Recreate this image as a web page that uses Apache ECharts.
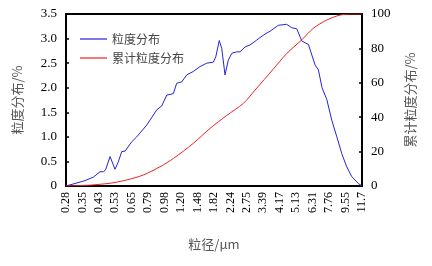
<!DOCTYPE html>
<html>
<head>
<meta charset="utf-8">
<script src="https://cdn.jsdelivr.net/npm/echarts@6/dist/echarts.min.js"></script>
<style>
  html, body { margin: 0; padding: 0; background: #fff; }
  #chart { width: 432px; height: 266px; }
</style>
</head>
<body>
<div id="chart"></div>
<script>
// 粒径刻度 (log spaced, one per axis step)
const sizeLabels = ["0.28", "0.35", "0.43", "0.53", "0.65", "0.79", "0.98", "1.20", "1.48",
  "1.82", "2.24", "2.75", "3.39", "4.17", "5.13", "6.31", "7.76", "9.55", "11.7"];

// 粒度分布 : [position on label scale, %]
const distPos = [0, 0.43, 1.16, 1.66, 2.07, 2.27, 2.41, 2.68, 2.98, 3.18, 3.39, 3.59, 4.0, 4.3,
  4.91, 5.52, 5.82, 6.13, 6.53, 6.73, 7.04, 7.34, 7.74, 8.15, 8.56, 8.96, 9.11, 9.32, 9.47,
  9.67, 9.87, 10.08, 10.38, 10.58, 10.89, 11.19, 11.6, 12.0, 12.41, 12.91, 13.42, 13.73,
  14.03, 14.34, 14.74, 15.15, 15.35, 15.57, 15.86, 16.16, 16.47, 16.77, 17.07, 17.38, 17.78, 18];
const distVal = [0, 0.04, 0.11, 0.18, 0.29, 0.29, 0.33, 0.6, 0.34, 0.49, 0.7, 0.71, 0.9, 1.0,
  1.24, 1.55, 1.63, 1.85, 1.88, 2.09, 2.12, 2.26, 2.33, 2.43, 2.5, 2.52, 2.63, 2.96, 2.8,
  2.26, 2.56, 2.7, 2.73, 2.73, 2.83, 2.87, 2.97, 3.07, 3.15, 3.27, 3.29, 3.22,
  3.2, 2.95, 2.88, 2.46, 2.36, 2.0, 1.76, 1.34, 1.0, 0.66, 0.39, 0.19, 0.05, 0];

// 累计粒度分布
const cumPos = [0, 1.46, 2.07, 2.68, 3.69, 4.7, 5.72, 6.53, 7.74, 8.76, 9.77, 10.78, 11.5,
  12.61, 13.42, 14.34, 15.04, 15.86, 16.67, 17.27, 18];
const cumVal = [0, 0.5, 1, 1.6, 3.5, 6.4, 11.2, 16, 24.8, 33.5, 41, 48, 55.8,
  68, 77, 85, 91.7, 96.5, 99.4, 100, 100];

const numFont = "Liberation Serif, DejaVu Serif, serif";
const cjkFont = "Noto Sans CJK SC, sans-serif";

const chart = echarts.init(document.getElementById("chart"));
chart.setOption({
  animation: false,
  backgroundColor: "#fff",
  grid: {
    left: 66, right: 70, top: 14, bottom: 80,
    show: true, borderColor: "#000", borderWidth: 2
  },
  legend: {
    orient: "vertical",
    left: 75, top: 27,
    icon: "rect",
    itemWidth: 27, itemHeight: 1.2, itemGap: 5,
    textStyle: { fontFamily: cjkFont, fontSize: 12, color: "#444", lineHeight: 14 },
    data: ["粒度分布", "累计粒度分布"]
  },
  xAxis: {
    type: "value",
    min: 0, max: 18, interval: 1,
    name: "粒径/μm",
    nameLocation: "middle",
    nameGap: 52,
    nameTextStyle: { fontFamily: cjkFont, fontSize: 13, color: "#555" },
    axisLine: { lineStyle: { color: "#000", width: 2 } },
    axisTick: { show: false },
    splitLine: { show: false },
    axisLabel: {
      rotate: 90, margin: 6,
      fontFamily: numFont, fontSize: 12, color: "#000",
      formatter: (v) => sizeLabels[v] || ""
    }
  },
  yAxis: [
    {
      type: "value",
      min: 0, max: 3.5, interval: 0.5,
      name: "粒度分布/%",
      nameLocation: "middle",
      nameRotate: 90,
      nameGap: 42,
      nameTextStyle: { fontFamily: cjkFont, fontSize: 13, color: "#555" },
      axisLine: { show: true, lineStyle: { color: "#000", width: 2 } },
      axisTick: { show: true, inside: true, length: 3, lineStyle: { color: "#000", width: 1.5 } },
      splitLine: { show: false },
      axisLabel: {
        margin: 9, fontFamily: numFont, fontSize: 13, color: "#000",
        formatter: (v) => (v === 0 ? "0" : v.toFixed(1))
      }
    },
    {
      type: "value",
      min: 0, max: 100, interval: 20,
      name: "累计粒度分布/%",
      nameLocation: "middle",
      nameRotate: 90,
      nameGap: 42,
      nameTextStyle: { fontFamily: cjkFont, fontSize: 13, color: "#555" },
      axisLine: { show: true, lineStyle: { color: "#000", width: 2 } },
      axisTick: { show: true, inside: true, length: 3, lineStyle: { color: "#000", width: 1.5 } },
      splitLine: { show: false },
      axisLabel: { margin: 9, fontFamily: numFont, fontSize: 13, color: "#000" }
    }
  ],
  series: [
    {
      name: "粒度分布",
      type: "line",
      yAxisIndex: 0,
      symbol: "none",
      color: "#2424d8",
      lineStyle: { width: 1 },
      data: distPos.map((x, i) => [x, distVal[i]])
    },
    {
      name: "累计粒度分布",
      type: "line",
      yAxisIndex: 1,
      symbol: "none",
      smooth: 0.3,
      color: "#f02020",
      lineStyle: { width: 1 },
      data: cumPos.map((x, i) => [x, cumVal[i]])
    }
  ]
});
</script>
</body>
</html>
